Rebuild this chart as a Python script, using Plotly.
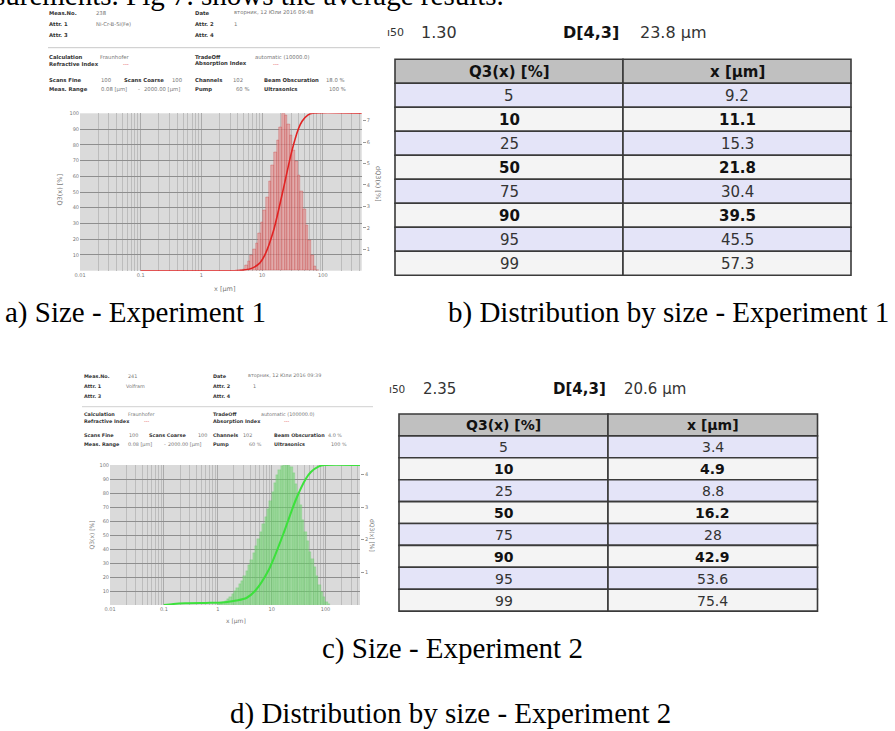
import plotly.graph_objects as go

W, H = 895, 731

# ---------------- data ----------------
# Experiment 1 (Ni-Cr-B-Si(Fe)) : size classes [µm] and density q3 [%]
exp1_edges = [4.3, 4.75, 5.25, 5.8, 6.4, 7.05, 7.8, 8.6, 9.5, 10.5, 11.6, 12.8, 14.2, 15.7,
              17.3, 19.2, 21.2, 23.4, 25.9, 28.6, 31.6, 34.9, 38.6, 42.6, 47.1, 52.1, 57.5,
              63.6, 70.2, 77.6, 85.8]
exp1_q3 = [0.03, 0.08, 0.25, 0.45, 0.7, 1.0, 1.3, 1.75, 2.25, 2.8, 3.4, 4.15, 4.9, 5.5, 6.1,
           6.7, 7.34, 7.25, 6.85, 6.3, 5.6, 5.1, 4.45, 3.7, 2.85, 2.1, 1.4, 0.7, 0.2, 0.03]
exp1_cum_x = [0.1, 3.5, 5.0, 7.0, 9.2, 11.1, 15.3, 21.8, 30.4, 39.5, 45.5, 57.3, 68.0, 440.0]
exp1_cum_y = [0, 0, 0.4, 1.8, 5, 10, 25, 50, 75, 90, 95, 99, 100, 100]

# Experiment 2 (Volfram)
exp2_edges = [1.0, 1.1, 1.22, 1.35, 1.49, 1.65, 1.82, 2.01, 2.22, 2.46, 2.71, 3.0, 3.31, 3.66,
              4.05, 4.47, 4.94, 5.46, 6.03, 6.67, 7.37, 8.14, 9.0, 9.95, 11.0, 12.2, 13.4, 14.9,
              16.4, 18.1, 20.0, 22.1, 24.5, 27.0, 29.9, 33.0, 36.5, 40.3, 44.6, 49.3, 54.4,
              60.1, 66.5, 73.5, 81.2, 89.7, 99.2, 109.6, 121.1]
exp2_q3 = [0.02, 0.05, 0.08, 0.12, 0.18, 0.24, 0.33, 0.42, 0.52, 0.63, 0.75, 0.90, 1.05, 1.22,
           1.38, 1.58, 1.80, 2.02, 2.25, 2.48, 2.70, 2.93, 3.20, 3.45, 3.75, 3.98, 4.13, 4.25,
           4.29, 4.29, 4.29, 4.22, 4.05, 3.72, 3.42, 3.05, 2.62, 2.25, 1.95, 1.62, 1.40, 1.15,
           0.88, 0.62, 0.40, 0.24, 0.10, 0.03]
exp2_cum_x = [0.1, 0.15, 0.25, 0.6, 1.0, 1.5, 2.2, 3.4, 4.9, 8.8, 16.2, 28.0, 42.9, 53.6, 75.4, 95.0, 450.0]
exp2_cum_y = [0, 0.8, 1.3, 1.5, 1.6, 2.2, 3.2, 5, 10, 25, 50, 75, 90, 95, 99, 100, 100]

# tables
q3_levels = [5, 10, 25, 50, 75, 90, 95, 99]
exp1_x_at_q3 = ["9.2", "11.1", "15.3", "21.8", "30.4", "39.5", "45.5", "57.3"]
exp2_x_at_q3 = ["3.4", "4.9", "8.8", "16.2", "28", "42.9", "53.6", "75.4"]
bold_levels = [10, 50, 90]
table_header = ["Q3(x) [%]", "x [µm]"]

x_tick_vals = [0.01, 0.1, 1, 10, 100]
x_tick_text = ["0.01", "0.1", "1", "10", "100"]
Q3_ticks = [10, 20, 30, 40, 50, 60, 70, 80, 90, 100]
q3_ticks_1 = [1, 2, 3, 4, 5, 6, 7]
q3_ticks_2 = [1, 2, 3, 4]

# ---------------- helpers ----------------
def px_x(v):
    return v / W

def px_y(v):
    return 1 - v / H

fig = go.Figure()

def txt(x, y, s, size=5.3, color="#555", bold=False, anchor="left", family="DejaVu Sans",
        angle=0, yanchor="middle"):
    fig.add_annotation(x=px_x(x), y=px_y(y), xref="paper", yref="paper",
                       text=("<b>%s</b>" % s if bold else s), showarrow=False,
                       xanchor=anchor, yanchor=yanchor, textangle=angle, borderpad=0,
                       font=dict(family=family, size=size, color=color))

def bars(edges, heights, yaxis, xaxis, fill, line, lw):
    widths = [edges[i + 1] - edges[i] for i in range(len(heights))]
    fig.add_trace(go.Bar(x=edges[:-1], y=heights, width=widths, offset=0,
                         marker=dict(color=fill, line=dict(color=line, width=lw)),
                         xaxis=xaxis, yaxis=yaxis, showlegend=False, hoverinfo="skip"))

def curve(xs, ys, yaxis, xaxis, color, lw):
    fig.add_trace(go.Scatter(x=xs, y=ys, mode="lines",
                             line=dict(color=color, width=lw, shape="spline", smoothing=0.8),
                             xaxis=xaxis, yaxis=yaxis, showlegend=False, hoverinfo="skip"))

# ---------------- charts ----------------
bars(exp1_edges, exp1_q3, "y", "x", "rgba(228,150,150,0.7)", "rgba(200,60,60,0.65)", 0.5)
curve(exp1_cum_x, exp1_cum_y, "y2", "x", "rgb(225,35,35)", 1.6)

bars(exp2_edges, exp2_q3, "y3", "x2", "rgba(110,215,110,0.55)", "rgba(100,205,100,0.6)", 0.4)
curve(exp2_cum_x, exp2_cum_y, "y4", "x2", "rgb(60,225,60)", 2.0)

tickfont = dict(family="DejaVu Sans", size=5, color="#777")
grid_v = "#ababab"

def xaxis_def(dom, anchor):
    return dict(domain=dom, anchor=anchor, type="log", range=[-2, 2.64],
                tickmode="array", tickvals=x_tick_vals, ticktext=x_tick_text,
                tickfont=tickfont, showgrid=True, gridcolor=grid_v, gridwidth=0.8,
                minor=dict(dtick="D1", showgrid=True, gridcolor="#bcbcbc", gridwidth=0.5),
                ticks="", showline=False, zeroline=False, fixedrange=True, automargin=False)

def yright_def(dom, anchor, rng, tv):
    return dict(domain=dom, anchor=anchor, side="right", range=rng, tickmode="array",
                tickvals=tv, tickfont=tickfont, showgrid=False, zeroline=False,
                ticks="outside", ticklen=3, tickcolor="#999", showline=False, fixedrange=True,
                automargin=False)

def yleft_def(over, anchor):
    return dict(overlaying=over, anchor=anchor, side="left", range=[0, 100], tickmode="array",
                tickvals=Q3_ticks, tickfont=tickfont, showgrid=True, gridcolor="#8e8e8e",
                gridwidth=1, zeroline=False, ticks="", showline=False, fixedrange=True,
                automargin=False)

c1x = [px_x(80), px_x(361.7)]
c1y = [px_y(270.7), px_y(113.3)]
c2x = [px_x(110), px_x(360)]
c2y = [px_y(605), px_y(465)]

fig.update_layout(
    width=W, height=H, autosize=False,
    margin=dict(l=0, r=0, t=0, b=0, pad=0),
    paper_bgcolor="white", plot_bgcolor="#dadada",
    bargap=0, barmode="overlay",
    xaxis=xaxis_def(c1x, "y"),
    yaxis=yright_def(c1y, "x", [0, 7.34], q3_ticks_1),
    yaxis2=yleft_def("y", "x"),
    xaxis2=xaxis_def(c2x, "y3"),
    yaxis3=yright_def(c2y, "x2", [0, 4.29], q3_ticks_2),
    yaxis4=yleft_def("y3", "x2"),
)

# axis titles
txt(224, 289, "x [µm]", size=6.5, color="#777", anchor="center")
txt(59.5, 190, "Q3(x) [%]", size=6.5, color="#777", anchor="center", angle=-90)
txt(378, 184, "dQ3(x) [%]", size=6.5, color="#777", anchor="center", angle=90)
txt(236, 621, "x [µm]", size=6, color="#777", anchor="center")
txt(90.5, 535, "Q3(x) [%]", size=6, color="#777", anchor="center", angle=-90)
txt(373, 535, "dQ3(x) [%]", size=6, color="#777", anchor="center", angle=90)

# ---------------- measurement headers ----------------
LAB = "#333"
VAL = "#777"
RED = "#e04040"

def header_block(rows, size):
    for y, items in rows:
        for xx, s, kind in items:
            if kind == "b":
                txt(xx, y, s, size=size, color=LAB, bold=True)
            elif kind == "r":
                txt(xx, y, s, size=size, color=RED)
            else:
                txt(xx, y, s, size=size, color=VAL)

header_block([
    (13, [(48, "Meas.No.", "b"), (95, "238", "v"), (194, "Date", "b"),
          (233, "вторник, 12 Юли 2016 09:48", "v")]),
    (24, [(48, "Attr. 1", "b"), (95, "Ni-Cr-B-Si(Fe)", "v"), (194, "Attr. 2", "b"), (233, "1", "v")]),
    (35, [(48, "Attr. 3", "b"), (194, "Attr. 4", "b")]),
    (56.7, [(48, "Calculation", "b"), (99, "Fraunhofer", "v"), (194, "TradeOff", "b"),
            (254, "automatic (10000.0)", "v")]),
    (63.8, [(48, "Refractive Index", "b"), (122, "---", "r"), (194, "Absorption Index", "b"),
            (272, "---", "r")]),
    (80, [(48, "Scans Fine", "b"), (100, "100", "v"), (123, "Scans Coarse", "b"), (171, "100", "v"),
          (194, "Channels", "b"), (232, "102", "v"), (263, "Beam Obscuration", "b"),
          (325, "18.0 %", "v")]),
    (89.3, [(48, "Meas. Range", "b"), (100, "0.08 [µm]", "v"), (137, "-", "v"),
            (143, "2000.00 [µm]", "v"), (194, "Pump", "b"), (235, "60 %", "v"),
            (263, "Ultrasonics", "b"), (328, "100 %", "v")]),
], 5.3)
fig.add_shape(type="line", xref="paper", yref="paper", x0=px_x(48), x1=px_x(380),
              y0=px_y(47.7), y1=px_y(47.7), line=dict(color="#c8c8c8", width=1))

header_block([
    (375.7, [(82.7, "Meas.No.", "b"), (126.7, "241", "v"), (211.7, "Date", "b"),
             (246.7, "вторник, 12 Юли 2016 09:39", "v")]),
    (386, [(82.7, "Attr. 1", "b"), (125, "Volfram", "v"), (211.7, "Attr. 2", "b"), (251.7, "1", "v")]),
    (395.7, [(82.7, "Attr. 3", "b"), (211.7, "Attr. 4", "b")]),
    (414, [(82.7, "Calculation", "b"), (126.7, "Fraunhofer", "v"), (211.7, "TradeOff", "b"),
           (260, "automatic (100000.0)", "v")]),
    (421, [(82.7, "Refractive Index", "b"), (143, "---", "r"), (211.7, "Absorption Index", "b"),
           (283, "---", "r")]),
    (435, [(82.7, "Scans Fine", "b"), (128, "100", "v"), (148, "Scans Coarse", "b"),
           (196.7, "100", "v"), (211.7, "Channels", "b"), (241.7, "102", "v"),
           (273, "Beam Obscuration", "b"), (326.7, "4.0 %", "v")]),
    (444, [(82.7, "Meas. Range", "b"), (126.7, "0.08 [µm]", "v"), (163, "-", "v"),
           (167, "2000.00 [µm]", "v"), (211.7, "Pump", "b"), (248, "60 %", "v"),
           (273, "Ultrasonics", "b"), (330, "100 %", "v")]),
], 4.9)
fig.add_shape(type="line", xref="paper", yref="paper", x0=px_x(82), x1=px_x(373),
              y0=px_y(406.7), y1=px_y(406.7), line=dict(color="#d0d0d0", width=1))

# ---------------- tables (drawn as cells) ----------------
def table(x0, xm, x1, top, h, xvals, size):
    rows = [(table_header, "#c0c0c0", True)]
    for i, (q, v) in enumerate(zip(q3_levels, xvals)):
        rows.append(([str(q), v], "#e4e4f8" if i % 2 == 0 else "#f4f4f4", q in bold_levels))
    for r, (vals, fill, bold) in enumerate(rows):
        ya, yb = top + r * h, top + (r + 1) * h
        for (ca, cb), s in zip([(x0, xm), (xm, x1)], vals):
            fig.add_shape(type="rect", xref="paper", yref="paper",
                          x0=px_x(ca), x1=px_x(cb), y0=px_y(yb), y1=px_y(ya),
                          fillcolor=fill, line=dict(color="#3a3a3a", width=1.6), layer="below")
            txt((ca + cb) / 2, (ya + yb) / 2 + 0.5, s, size=size,
                color="#111" if bold else "#333", bold=bold, anchor="center")

table(395, 623, 851, 59.3, 24, exp1_x_at_q3, 15)
table(399, 608, 817.5, 414, 21.9, exp2_x_at_q3, 14)

# stats above tables
txt(386, 32, "ı50", size=11, color="#333")
txt(420, 32, "1.30", size=16, color="#333")
txt(562, 32, "D[4,3]", size=16, color="#111", bold=True)
txt(639, 32, "23.8 µm", size=16, color="#333")
txt(388, 389, "ı50", size=10.5, color="#333")
txt(422, 389, "2.35", size=15, color="#333")
txt(552, 389, "D[4,3]", size=15, color="#111", bold=True)
txt(623, 389, "20.6 µm", size=15, color="#333")

# ---------------- captions ----------------
SERIF = "Liberation Serif"
txt(505, -4.5, "surements. Fig 7. shows the average results.", size=29, color="#000",
    anchor="right", family=SERIF)
txt(135.5, 313, "a) Size - Experiment 1", size=29, color="#000", anchor="center", family=SERIF)
txt(668, 313, "b) Distribution by size - Experiment 1", size=29, color="#000", anchor="center",
    family=SERIF)
txt(452.5, 648, "c) Size - Experiment 2", size=29, color="#000", anchor="center", family=SERIF)
txt(450.5, 713, "d) Distribution by size - Experiment 2", size=29, color="#000", anchor="center",
    family=SERIF)

fig.write_html("out.html", config={"displayModeBar": False},
               post_script="document.body.style.margin='0';")
